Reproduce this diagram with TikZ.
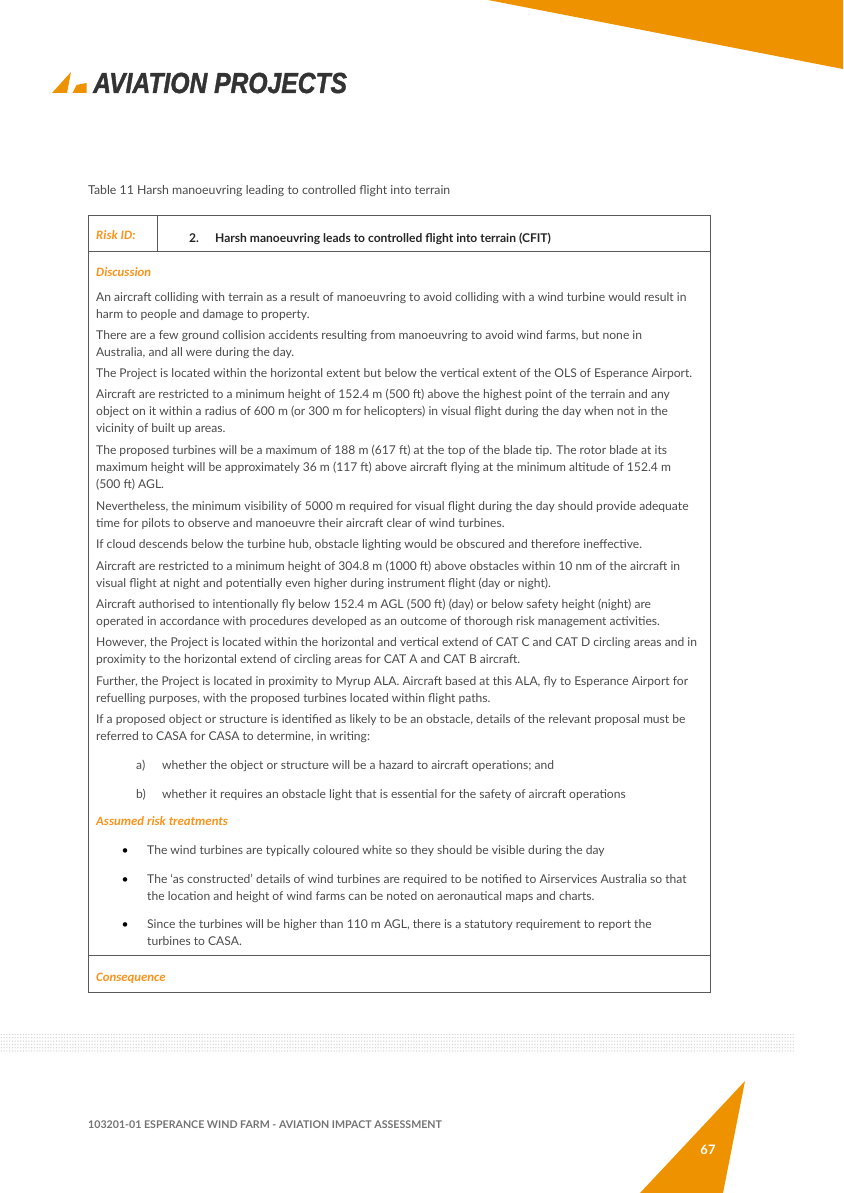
\documentclass[tikz,border=0pt]{standalone}
\usepackage{fontspec}
\setmainfont{Lato}
\newfontfamily\headfont{Carlito}
\newfontfamily\logofont[BoldItalicFeatures={FakeBold=1.5}]{Liberation Sans}
\definecolor{aporange}{HTML}{EF9200}
\definecolor{headorange}{HTML}{F7941D}
\definecolor{bodygrey}{HTML}{4A4A4A}
\tikzset{
  body/.style={anchor=base west,inner sep=0pt,text=bodygrey,font=\fontsize{12.1}{15}\selectfont},
  head/.style={anchor=base west,inner sep=0pt,text=headorange,font=\headfont\fontsize{12.8}{15}\selectfont\bfseries\itshape},
  rule/.style={draw=black!65,line width=0.9pt}
}
\begin{document}
\begin{tikzpicture}[x=1pt,y=-1pt]
\useasboundingbox (0,0) rectangle (843,1193);

\fill[aporange] (488,0) -- (843,0) -- (843,69) -- cycle;
\fill[aporange] (745,1081) -- (640,1193) -- (723,1193) -- cycle;
\fill[aporange] (52,93) -- (71,72) -- (67,93) -- cycle;
\fill[aporange] (72.5,93) -- (76.5,85) -- (86.5,83) -- (86.5,93) -- cycle;

\node[anchor=base west,inner sep=0pt,text=black!80] (logo) at (93,93)
  {\scalebox{0.85}[1]{\logofont\fontsize{29}{30}\selectfont\bfseries\itshape AVIATION PROJECTS}};

\node[body,font=\fontsize{12.3}{15}\selectfont] (caption) at (88,194) {Table 11 Harsh manoeuvring leading to controlled flight into terrain};

\draw[rule] (88.5,215) rectangle (710.5,992);
\draw[rule] (88.5,251.5) -- (710.5,251.5);
\draw[rule] (88.5,955.5) -- (710.5,955.5);
\draw[rule] (157,215) -- (157,251.5);

\node[head] (riskid) at (96,239) {Risk ID:};
\node[body,text=black!85,font=\fontsize{12.05}{15}\selectfont\bfseries] (num) at (189,242) {2.};
\node[body,text=black!85,font=\fontsize{12.05}{15}\selectfont\bfseries] (title) at (215,242) {Harsh manoeuvring leads to controlled flight into terrain (CFIT)};

\node[head] (discussion) at (96,276) {Discussion};
\node[body] (l1) at (96,301) {An aircraft colliding with terrain as a result of manoeuvring to avoid colliding with a wind turbine would result in};
\node[body] (l2) at (96,318) {harm to people and damage to property.};
\node[body] (l3) at (96,339) {There are a few ground collision accidents resulting from manoeuvring to avoid wind farms, but none in};
\node[body] (l4) at (96,356) {Australia, and all were during the day.};
\node[body] (l5) at (96,377) {The Project is located within the horizontal extent but below the vertical extent of the OLS of Esperance Airport.};
\node[body] (l6) at (96,398) {Aircraft are restricted to a minimum height of 152.4 m (500 ft) above the highest point of the terrain and any};
\node[body] (l7) at (96,415) {object on it within a radius of 600 m (or 300 m for helicopters) in visual flight during the day when not in the};
\node[body] (l8) at (96,432) {vicinity of built up areas.};
\node[body] (l9) at (96,454) {The proposed turbines will be a maximum of 188 m (617 ft) at the top of the blade tip. The rotor blade at its};
\node[body] (l10) at (96,471) {maximum height will be approximately 36 m (117 ft) above aircraft flying at the minimum altitude of 152.4 m};
\node[body] (l11) at (96,488) {(500 ft) AGL.};
\node[body] (l12) at (96,510) {Nevertheless, the minimum visibility of 5000 m required for visual flight during the day should provide adequate};
\node[body] (l13) at (96,527) {time for pilots to observe and manoeuvre their aircraft clear of wind turbines.};
\node[body] (l14) at (96,548) {If cloud descends below the turbine hub, obstacle lighting would be obscured and therefore ineffective.};
\node[body] (l15) at (96,570) {Aircraft are restricted to a minimum height of 304.8 m (1000 ft) above obstacles within 10 nm of the aircraft in};
\node[body] (l16) at (96,587) {visual flight at night and potentially even higher during instrument flight (day or night).};
\node[body] (l17) at (96,608) {Aircraft authorised to intentionally fly below 152.4 m AGL (500 ft) (day) or below safety height (night) are};
\node[body] (l18) at (96,625) {operated in accordance with procedures developed as an outcome of thorough risk management activities.};
\node[body] (l19) at (96,646) {However, the Project is located within the horizontal and vertical extend of CAT C and CAT D circling areas and in};
\node[body] (l20) at (96,663) {proximity to the horizontal extend of circling areas for CAT A and CAT B aircraft.};
\node[body] (l21) at (96,685) {Further, the Project is located in proximity to Myrup ALA. Aircraft based at this ALA, fly to Esperance Airport for};
\node[body] (l22) at (96,702) {refuelling purposes, with the proposed turbines located within flight paths.};
\node[body] (l23) at (96,723) {If a proposed object or structure is identified as likely to be an obstacle, details of the relevant proposal must be};
\node[body] (l24) at (96,740) {referred to CASA for CASA to determine, in writing:};

\node[body] (a) at (136,769) {a)};
\node[body] (atext) at (162,769) {whether the object or structure will be a hazard to aircraft operations; and};
\node[body] (b) at (136,798) {b)};
\node[body] (btext) at (162,798) {whether it requires an obstacle light that is essential for the safety of aircraft operations};

\node[head] (treatments) at (96,825) {Assumed risk treatments};
\node[body,text=black] (b1) at (121.5,854) {\textbullet};
\node[body] (t1) at (147,854) {The wind turbines are typically coloured white so they should be visible during the day};
\node[body,text=black] (b2) at (121.5,883) {\textbullet};
\node[body] (t2) at (147,883) {The ‘as constructed’ details of wind turbines are required to be notified to Airservices Australia so that};
\node[body] (t3) at (147,900) {the location and height of wind farms can be noted on aeronautical maps and charts.};
\node[body,text=black] (b3) at (121.5,928) {\textbullet};
\node[body] (t4) at (147,928) {Since the turbines will be higher than 110 m AGL, there is a statutory requirement to report the};
\node[body] (t5) at (147,945) {turbines to CASA.};
\node[head] (consequence) at (96,981) {Consequence};

% dotted band
\foreach \i in {0,...,288} \foreach \j in {0,...,5}
  \fill[black!16] ({1.4+2.75*\i},{1034.5+3.3*\j}) circle (0.75);

\node[body,text=black!55,font=\fontsize{10.64}{12}\selectfont\bfseries] (footer) at (88,1128) {103201-01 ESPERANCE WIND FARM - AVIATION IMPACT ASSESSMENT};
\node[body,anchor=center,text=white,font=\fontsize{13}{15}\selectfont\bfseries] (page) at (708,1150) {67};
\end{tikzpicture}
\end{document}
